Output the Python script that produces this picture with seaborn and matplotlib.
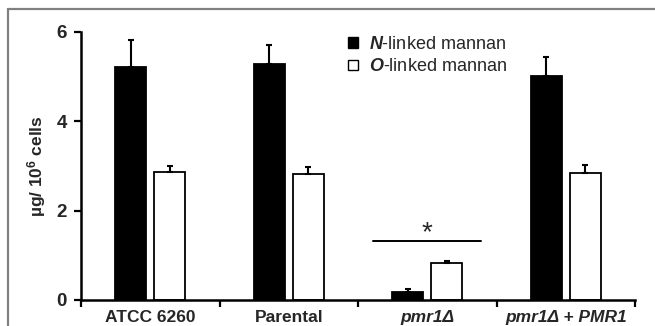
import matplotlib
matplotlib.use("Agg")
import matplotlib.pyplot as plt
from matplotlib.lines import Line2D
import numpy as np
import pandas as pd
import seaborn as sns

# Strains and mannan measurements (µg per 10^6 cells, mean and SD)
strains = ["ATCC 6260", "Parental", "pmr1Δ", "pmr1Δ + PMR1"]
n_linked = [5.21, 5.28, 0.19, 5.01]
n_linked_sd = [0.62, 0.43, 0.06, 0.43]
o_linked = [2.86, 2.83, 0.82, 2.85]
o_linked_sd = [0.15, 0.15, 0.06, 0.17]
series = ["N-linked mannan", "O-linked mannan"]

df = pd.DataFrame({
    "strain": strains * 2,
    "mannan": [series[0]] * 4 + [series[1]] * 4,
    "value": n_linked + o_linked,
})

sns.set_theme(style="white")
plt.rcParams["font.family"] = ["Liberation Sans", "DejaVu Sans"]
plt.rcParams["mathtext.fontset"] = "custom"
plt.rcParams["mathtext.rm"] = "Liberation Sans"
plt.rcParams["mathtext.it"] = "Liberation Sans:italic:bold"
plt.rcParams["mathtext.bf"] = "Liberation Sans:bold"

fig = plt.figure(figsize=(6.55, 3.26), dpi=100)
ax = fig.add_axes([81 / 655, 26 / 326, (635 - 81) / 655, (300 - 32) / 326])

sns.barplot(data=df, x="strain", y="value", hue="mannan", order=strains,
            hue_order=series, palette=["black", "white"], width=0.563,
            gap=0.2, edgecolor="black", linewidth=1.3, errorbar=None,
            legend=False, ax=ax)

# one-sided (upper) error bars on each bar
for cont, sds in zip(ax.containers, [n_linked_sd, o_linked_sd]):
    for bar, sd in zip(cont, sds):
        xc = bar.get_x() + bar.get_width() / 2
        h = bar.get_height()
        ax.errorbar(xc, h, yerr=[[0], [sd]], fmt="none", ecolor="black",
                    elinewidth=1.5, capsize=2.5, capthick=1.5, zorder=1)

ax.set_xlim(-0.5, 3.5)
ax.set_ylim(0, 6)
ax.set_yticks([0, 2, 4, 6])
ax.set_xlabel("")
ax.set_ylabel("µg/ 10$^{\\mathbf{6}}$ cells", fontsize=12.5, fontweight="bold",
              labelpad=6)

for s in ["top", "right"]:
    ax.spines[s].set_visible(False)
for s in ["left", "bottom"]:
    ax.spines[s].set_linewidth(1.8)
    ax.spines[s].set_color("black")

ax.set_xticks(np.arange(4))
ax.set_xticks(np.arange(-0.5, 4.0, 1.0), minor=True)
ax.tick_params(axis="x", which="major", length=0, pad=7)
ax.tick_params(axis="x", which="minor", length=5, width=1.6, color="black",
               direction="out", bottom=True)
ax.tick_params(axis="y", length=5, width=1.6, color="black", direction="out",
               left=True, pad=5)
ax.set_xticklabels(strains, fontsize=12.5, fontweight="bold")
for lbl in ax.get_xticklabels()[2:]:
    lbl.set_fontstyle("italic")
for lbl in ax.get_yticklabels():
    lbl.set_fontsize(13.5)
    lbl.set_fontweight("bold")

# significance bracket over pmr1Δ
ax.plot([1.61, 2.39], [1.31, 1.31], color="black", lw=1.4)
ax.text(2.0, 1.21, "*", ha="center", va="bottom", fontsize=20)

# legend
handles = [plt.Rectangle((0, 0), 1, 1, facecolor=c, edgecolor="black", lw=1)
           for c in ["black", "white"]]
ax.legend(handles, ["$N$-linked mannan", "$O$-linked mannan"],
          loc="upper left", bbox_to_anchor=(348 / 655, 1 - 36 / 326),
          bbox_transform=fig.transFigure, frameon=False, fontsize=13,
          handlelength=0.55, handleheight=0.55, handletextpad=0.6,
          labelspacing=0.3, borderaxespad=0, borderpad=0)

# gray frame along the top and left edges
fig.add_artist(Line2D([7.5 / 655, 7.5 / 655], [0, 1 - 8.5 / 326],
                      transform=fig.transFigure, color="#808080", lw=1.6))
fig.add_artist(Line2D([7.5 / 655, 1], [1 - 8.5 / 326, 1 - 8.5 / 326],
                      transform=fig.transFigure, color="#808080", lw=1.6))

fig.savefig("out.png", dpi=100)
